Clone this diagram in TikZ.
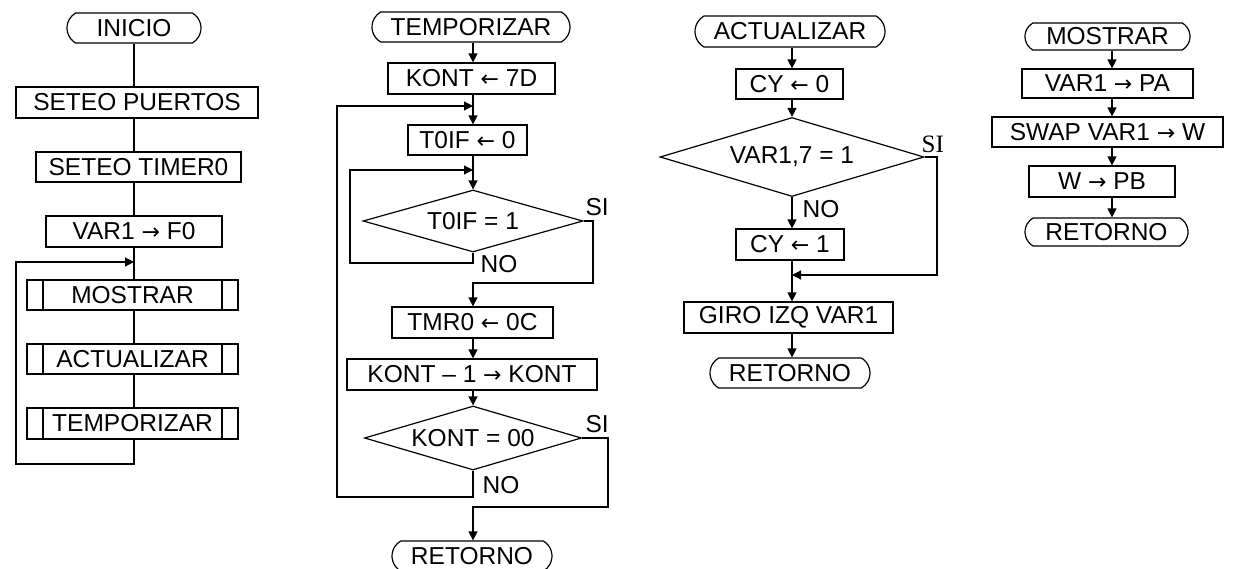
\documentclass[tikz,border=0pt]{standalone}
\usepackage{fontspec}
\setmainfont{Liberation Sans}
\newfontfamily\seriffont{Liberation Serif}
\newfontfamily\arrowfont{DejaVu Sans}
\newcommand{\myra}{{\arrowfont\fontsize{22}{26}\selectfont →}}
\newcommand{\myla}{{\arrowfont\fontsize{22}{26}\selectfont ←}}
\usetikzlibrary{shapes.misc,shapes.geometric,arrows.meta}
\begin{document}
\begin{tikzpicture}[x=1pt,y=-1pt,line width=1.2pt,
  every node/.style={font=\fontsize{24.5}{28}\selectfont, inner sep=0pt},
  box/.style={draw, rectangle},
  term/.style={draw, rounded rectangle, rounded rectangle arc length=120},
  sub/.style={draw, rectangle, path picture={
      \draw[line width=1.2pt] ([xshift=16pt]path picture bounding box.north west) -- ([xshift=16pt]path picture bounding box.south west);
      \draw[line width=1.2pt] ([xshift=-16pt]path picture bounding box.north east) -- ([xshift=-16pt]path picture bounding box.south east);}},
  dia/.style={draw, diamond, shape aspect=3.4},
  arr/.style={-{Triangle[length=9pt,width=9pt]}},
  lbl/.style={anchor=base west},
  slbl/.style={anchor=base west, font=\seriffont\fontsize{25}{28}\selectfont}]
\useasboundingbox (0,0) rectangle (1242,568);
\fill[white] (0,0) rectangle (1242,568);
\clip (0,0) rectangle (1242,568);

% ---------- column 1 ----------
\coordinate (s1) at (134,0);
\node[term, minimum width=134, minimum height=30] (inicio) at (134,28) {INICIO};
\node[box, minimum width=242, minimum height=31] (puertos) at (137,102.5) {SETEO PUERTOS};
\node[box, minimum width=205, minimum height=30] (timer) at (138.5,167) {SETEO TIMER0};
\node[box, minimum width=176, minimum height=31] (var1) at (134,231.5) {VAR1 \myra{} F0};
\node[sub, minimum width=211, minimum height=30] (mostrar) at (132.5,295) {MOSTRAR};
\node[sub, minimum width=211, minimum height=30] (actualizar) at (132.5,359) {ACTUALIZAR};
\node[sub, minimum width=211, minimum height=31] (temporizar) at (132.5,423.5) {TEMPORIZAR};
\coordinate (j1) at (134,262);
\coordinate (l1a) at (16,464);
\coordinate (l1b) at (16,262);
\draw (inicio.south) -- (s1 |- puertos.north);
\draw (s1 |- puertos.south) -- (s1 |- timer.north);
\draw (s1 |- timer.south) -- (s1 |- var1.north);
\draw (s1 |- var1.south) -- (s1 |- mostrar.north);
\draw (s1 |- mostrar.south) -- (s1 |- actualizar.north);
\draw (s1 |- actualizar.south) -- (s1 |- temporizar.north);
\draw[arr] (s1 |- temporizar.south) |- (l1a) -- (l1b) -- (j1);

% ---------- column 2 ----------
\coordinate (s2) at (473,0);
\node[term, minimum width=198, minimum height=30] (temp2) at (471,27) {TEMPORIZAR};
\node[box, minimum width=167, minimum height=31] (kont) at (471.5,78.5) {KONT \myla{} 7D};
\node[box, minimum width=119, minimum height=30] (t0if) at (467.5,140) {T0IF \myla{} 0};
\node[dia, minimum width=220, minimum height=62] (d1) at (473,221) {T0IF = 1};
\node[box, minimum width=161, minimum height=31] (tmr) at (472.5,322.5) {TMR0 \myla{} 0C};
\node[box, minimum width=250, minimum height=31] (dec) at (472,374.5) {KONT – 1 \myra{} KONT};
\node[dia, minimum width=217, minimum height=64] (d2) at (473,438) {KONT = 00};
\node[term, minimum width=160, minimum height=30] (ret2) at (472,556) {RETORNO};
\coordinate (j2a) at (473,106);
\coordinate (j2b) at (473,170);
\coordinate (n1) at (473,263);
\coordinate (n1l) at (350,263);
\coordinate (n1t) at (350,170);
\coordinate (si1a) at (593,221);
\coordinate (si1b) at (593,283);
\coordinate (si1c) at (473,283);
\coordinate (n2) at (473,497);
\coordinate (n2l) at (337,497);
\coordinate (n2t) at (337,106);
\coordinate (si2a) at (608,438);
\coordinate (si2b) at (608,507);
\coordinate (si2c) at (473,507);
\draw[arr] (s2 |- temp2.south) -- (s2 |- kont.north);
\draw[arr] (s2 |- kont.south) -- (s2 |- t0if.north);
\draw[arr] (s2 |- t0if.south) -- (d1.north);
\draw[arr] (d1.south) -- (n1) -- (n1l) -- (n1t) -- (j2b);
\draw[arr] (d1.east) -- (si1a) -- (si1b) -- (si1c) -- (s2 |- tmr.north);
\draw[arr] (s2 |- tmr.south) -- (s2 |- dec.north);
\draw[arr] (s2 |- dec.south) -- (d2.north);
\draw[arr] (d2.south) -- (n2) -- (n2l) -- (n2t) -- (j2a);
\draw[arr] (d2.east) -- (si2a) -- (si2b) -- (si2c) -- (s2 |- ret2.north);
\node[lbl] (si1) at (585,215) {SI};
\node[lbl] (no1) at (480,272) {NO};
\node[lbl] (si2) at (585,432) {SI};
\node[lbl] (no2) at (482,493) {NO};

% ---------- column 3 ----------
\coordinate (s3) at (792,0);
\node[term, minimum width=190, minimum height=31] (act) at (790,31.5) {ACTUALIZAR};
\node[box, minimum width=107, minimum height=30] (cy0) at (789.5,84) {CY \myla{} 0};
\node[dia, minimum width=264, minimum height=79] (d3) at (792,157) {VAR1,7 = 1};
\node[box, minimum width=108, minimum height=31] (cy1) at (790,244.5) {CY \myla{} 1};
\node[box, minimum width=209, minimum height=31] (giro) at (788.5,317.5) {GIRO IZQ VAR1};
\node[term, minimum width=160, minimum height=30] (ret3) at (790,373) {RETORNO};
\coordinate (j3) at (792,275);
\coordinate (si3a) at (937,157);
\coordinate (si3b) at (937,275);
\draw[arr] (s3 |- act.south) -- (s3 |- cy0.north);
\draw[arr] (s3 |- cy0.south) -- (d3.north);
\draw[arr] (d3.south) -- (s3 |- cy1.north);
\draw[arr] (s3 |- cy1.south) -- (s3 |- giro.north);
\draw[arr] (d3.east) -- (si3a) -- (si3b) -- (j3);
\draw[arr] (s3 |- giro.south) -- (s3 |- ret3.north);
\node[slbl] (si3) at (921,152) {SI};
\node[lbl] (no3) at (802,217) {NO};

% ---------- column 4 ----------
\coordinate (s4) at (1112,0);
\node[term, minimum width=165, minimum height=27] (m4) at (1107.5,36.5) {MOSTRAR};
\node[box, minimum width=171, minimum height=29] (pa) at (1107.5,83.5) {VAR1 \myra{} PA};
\node[box, minimum width=231, minimum height=30] (swap) at (1107.5,132) {SWAP VAR1 \myra{} W};
\node[box, minimum width=146, minimum height=31] (wpb) at (1102,181.5) {W \myra{} PB};
\node[term, minimum width=163, minimum height=28] (ret4) at (1106.5,232) {RETORNO};
\draw[arr] (s4 |- m4.south) -- (s4 |- pa.north);
\draw[arr] (s4 |- pa.south) -- (s4 |- swap.north);
\draw[arr] (s4 |- swap.south) -- (s4 |- wpb.north);
\draw[arr] (s4 |- wpb.south) -- (s4 |- ret4.north);
\end{tikzpicture}
\end{document}
